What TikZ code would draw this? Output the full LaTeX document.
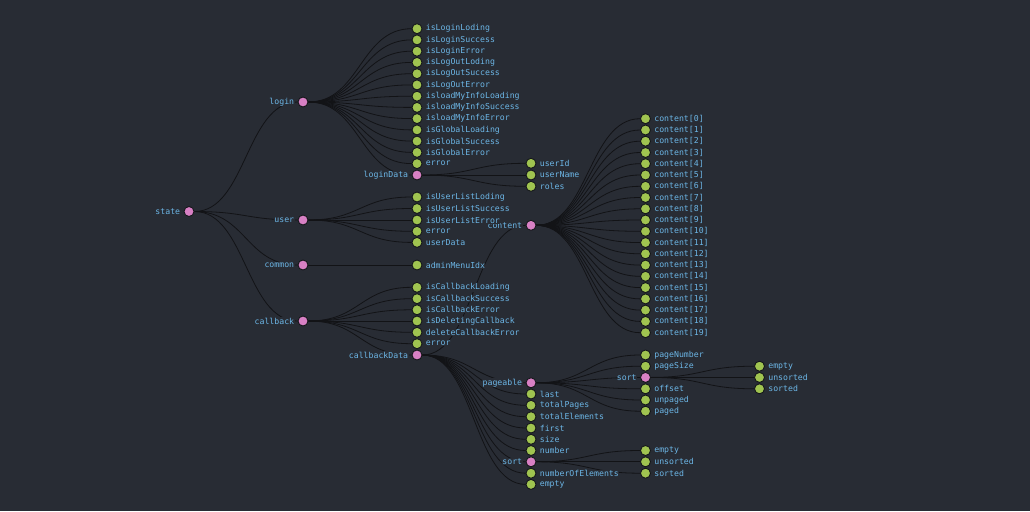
\documentclass[tikz,border=0pt]{standalone}
\usepackage{fontspec}
\setmonofont{DejaVu Sans Mono}
\usepackage{xcolor}
\definecolor{bg}{HTML}{282C34}
\definecolor{leafgreen}{HTML}{A0C450}
\definecolor{parentpink}{HTML}{D880C4}
\definecolor{nodeedge}{HTML}{15171B}
\definecolor{tagblue}{HTML}{6CB6E6}
\definecolor{linkblack}{HTML}{121316}

\pgfdeclarelayer{back}
\pgfdeclarelayer{links}
\pgfsetlayers{back,links,main}

\tikzset{
  tag/.style={text=tagblue, fill=bg, font=\ttfamily\fontsize{8.2}{9}\selectfont, inner sep=0.4pt},
  dot/.style={circle, draw=nodeedge, line width=0.9pt, minimum size=10pt, inner sep=0pt},
  leaf/.style={dot, fill=leafgreen, label={[tag]right:{#1}}},
  parent/.style={dot, fill=parentpink, label={[tag]left:{#1}}},
  link/.style={draw=linkblack, line width=0.8pt, to path={.. controls +(57,0) and +(-57,0) .. (\tikztotarget)}}
}

\begin{document}
\begin{tikzpicture}[x=1pt, y=-1pt, label distance=2.8pt]
        \begin{pgfonlayer}{back}
        \fill[bg] (0,0) rectangle (1030,511);
        \end{pgfonlayer}
        \useasboundingbox (0,0) rectangle (1030,511);

        % root and first level
        \node[parent=state](state) at (189,211.5) {};
        \node[parent=login](login) at (303,102) {};
        \node[parent=user](user) at (303,220) {};
        \node[parent=common](common) at (303,265) {};
        \node[parent=callback](callback) at (303,321) {};

        % login
        \node[leaf=isLoginLoding](isLoginLoding) at (417,28.7) {};
        \node[leaf=isLoginSuccess](isLoginSuccess) at (417,39.9) {};
        \node[leaf=isLoginError](isLoginError) at (417,51.2) {};
        \node[leaf=isLogOutLoding](isLogOutLoding) at (417,62.4) {};
        \node[leaf=isLogOutSuccess](isLogOutSuccess) at (417,73.7) {};
        \node[leaf=isLogOutError](isLogOutError) at (417,84.9) {};
        \node[leaf=isloadMyInfoLoading](isloadMyInfoLoading) at (417,96.2) {};
        \node[leaf=isloadMyInfoSuccess](isloadMyInfoSuccess) at (417,107.4) {};
        \node[leaf=isloadMyInfoError](isloadMyInfoError) at (417,118.6) {};
        \node[leaf=isGlobalLoading](isGlobalLoading) at (417,129.9) {};
        \node[leaf=isGlobalSuccess](isGlobalSuccess) at (417,141.1) {};
        \node[leaf=isGlobalError](isGlobalError) at (417,152.4) {};
        \node[leaf=error](loginError) at (417,163.6) {};
        \node[parent=loginData](loginData) at (417,175) {};
        \node[leaf=userId](userId) at (531,163.3) {};
        \node[leaf=userName](userName) at (531,175) {};
        \node[leaf=roles](roles) at (531,186.3) {};

        % content sits below the user labels
        \node[parent=content](content) at (531,225.3) {};

        % user
        \node[leaf=isUserListLoding](isUserListLoding) at (417,197) {};
        \node[leaf=isUserListSuccess](isUserListSuccess) at (417,208.5) {};
        \node[leaf=isUserListError](isUserListError) at (417,220) {};
        \node[leaf=error](userError) at (417,231.3) {};
        \node[leaf=userData](userData) at (417,242.4) {};

        % common
        \node[leaf=adminMenuIdx](adminMenuIdx) at (417,265) {};

        % callback
        \node[leaf=isCallbackLoading](isCallbackLoading) at (417,287.3) {};
        \node[leaf=isCallbackSuccess](isCallbackSuccess) at (417,298.7) {};
        \node[leaf=isCallbackError](isCallbackError) at (417,309.8) {};
        \node[leaf=isDeletingCallback](isDeletingCallback) at (417,321) {};
        \node[leaf=deleteCallbackError](deleteCallbackError) at (417,332.3) {};
        \node[leaf=error](callbackError) at (417,343.7) {};
        \node[parent=callbackData](callbackData) at (417,355) {};

        % callbackData
        \node[parent=pageable](pageable) at (531,382.8) {};
        \node[leaf=last](last) at (531,394) {};
        \node[leaf=totalPages](totalPages) at (531,405.3) {};
        \node[leaf=totalElements](totalElements) at (531,416.7) {};
        \node[leaf=first](first) at (531,428) {};
        \node[leaf=size](size) at (531,439.3) {};
        \node[leaf=number](number) at (531,450.5) {};
        \node[parent=sort](cbSort) at (531,461.8) {};
        \node[leaf=numberOfElements](numberOfElements) at (531,473.2) {};
        \node[leaf=empty](cbEmpty) at (531,484.4) {};

        % content
        \node[leaf={content[0]}](content0) at (645.5,118.7) {};
        \node[leaf={content[1]}](content1) at (645.5,130) {};
        \node[leaf={content[2]}](content2) at (645.5,141.2) {};
        \node[leaf={content[3]}](content3) at (645.5,152.5) {};
        \node[leaf={content[4]}](content4) at (645.5,163.7) {};
        \node[leaf={content[5]}](content5) at (645.5,175) {};
        \node[leaf={content[6]}](content6) at (645.5,186.3) {};
        \node[leaf={content[7]}](content7) at (645.5,197.5) {};
        \node[leaf={content[8]}](content8) at (645.5,208.8) {};
        \node[leaf={content[9]}](content9) at (645.5,220) {};
        \node[leaf={content[10]}](content10) at (645.5,231.3) {};
        \node[leaf={content[11]}](content11) at (645.5,242.6) {};
        \node[leaf={content[12]}](content12) at (645.5,253.8) {};
        \node[leaf={content[13]}](content13) at (645.5,265.1) {};
        \node[leaf={content[14]}](content14) at (645.5,276.3) {};
        \node[leaf={content[15]}](content15) at (645.5,287.6) {};
        \node[leaf={content[16]}](content16) at (645.5,298.9) {};
        \node[leaf={content[17]}](content17) at (645.5,310.1) {};
        \node[leaf={content[18]}](content18) at (645.5,321.4) {};
        \node[leaf={content[19]}](content19) at (645.5,332.7) {};

        % pageable
        \node[leaf=pageNumber](pageNumber) at (645.5,355) {};
        \node[leaf=pageSize](pageSize) at (645.5,366.2) {};
        \node[parent=sort](pgSort) at (645.5,377.4) {};
        \node[leaf=offset](offset) at (645.5,388.8) {};
        \node[leaf=unpaged](unpaged) at (645.5,400) {};
        \node[leaf=paged](paged) at (645.5,411.2) {};
        \node[leaf=empty](pgEmpty) at (759.5,366.2) {};
        \node[leaf=unsorted](pgUnsorted) at (759.5,377.4) {};
        \node[leaf=sorted](pgSorted) at (759.5,388.8) {};

        % sort
        \node[leaf=empty](cbSortEmpty) at (645.5,450.5) {};
        \node[leaf=unsorted](cbUnsorted) at (645.5,461.8) {};
        \node[leaf=sorted](cbSorted) at (645.5,473.2) {};

        \begin{pgfonlayer}{links}
        \draw[link](state) to (login);
        \draw[link](state) to (user);
        \draw[link](state) to (common);
        \draw[link](state) to (callback);

        \draw[link](login) to (isLoginLoding);
        \draw[link](login) to (isLoginSuccess);
        \draw[link](login) to (isLoginError);
        \draw[link](login) to (isLogOutLoding);
        \draw[link](login) to (isLogOutSuccess);
        \draw[link](login) to (isLogOutError);
        \draw[link](login) to (isloadMyInfoLoading);
        \draw[link](login) to (isloadMyInfoSuccess);
        \draw[link](login) to (isloadMyInfoError);
        \draw[link](login) to (isGlobalLoading);
        \draw[link](login) to (isGlobalSuccess);
        \draw[link](login) to (isGlobalError);
        \draw[link](login) to (loginError);
        \draw[link](login) to (loginData);
        \draw[link](loginData) to (userId);
        \draw[link](loginData) to (userName);
        \draw[link](loginData) to (roles);

        \draw[link](user) to (isUserListLoding);
        \draw[link](user) to (isUserListSuccess);
        \draw[link](user) to (isUserListError);
        \draw[link](user) to (userError);
        \draw[link](user) to (userData);

        \draw[link](common) to (adminMenuIdx);

        \draw[link](callback) to (isCallbackLoading);
        \draw[link](callback) to (isCallbackSuccess);
        \draw[link](callback) to (isCallbackError);
        \draw[link](callback) to (isDeletingCallback);
        \draw[link](callback) to (deleteCallbackError);
        \draw[link](callback) to (callbackError);
        \draw[link](callback) to (callbackData);

        \draw[link](callbackData) to (content);
        \draw[link](callbackData) to (pageable);
        \draw[link](callbackData) to (last);
        \draw[link](callbackData) to (totalPages);
        \draw[link](callbackData) to (totalElements);
        \draw[link](callbackData) to (first);
        \draw[link](callbackData) to (size);
        \draw[link](callbackData) to (number);
        \draw[link](callbackData) to (cbSort);
        \draw[link](callbackData) to (numberOfElements);
        \draw[link](callbackData) to (cbEmpty);

        \draw[link](content) to (content0);
        \draw[link](content) to (content1);
        \draw[link](content) to (content2);
        \draw[link](content) to (content3);
        \draw[link](content) to (content4);
        \draw[link](content) to (content5);
        \draw[link](content) to (content6);
        \draw[link](content) to (content7);
        \draw[link](content) to (content8);
        \draw[link](content) to (content9);
        \draw[link](content) to (content10);
        \draw[link](content) to (content11);
        \draw[link](content) to (content12);
        \draw[link](content) to (content13);
        \draw[link](content) to (content14);
        \draw[link](content) to (content15);
        \draw[link](content) to (content16);
        \draw[link](content) to (content17);
        \draw[link](content) to (content18);
        \draw[link](content) to (content19);

        \draw[link](pageable) to (pageNumber);
        \draw[link](pageable) to (pageSize);
        \draw[link](pageable) to (pgSort);
        \draw[link](pageable) to (offset);
        \draw[link](pageable) to (unpaged);
        \draw[link](pageable) to (paged);
        \draw[link](pgSort) to (pgEmpty);
        \draw[link](pgSort) to (pgUnsorted);
        \draw[link](pgSort) to (pgSorted);

        \draw[link](cbSort) to (cbSortEmpty);
        \draw[link](cbSort) to (cbUnsorted);
        \draw[link](cbSort) to (cbSorted);
        \end{pgfonlayer}
        \end{tikzpicture}
\end{document}
